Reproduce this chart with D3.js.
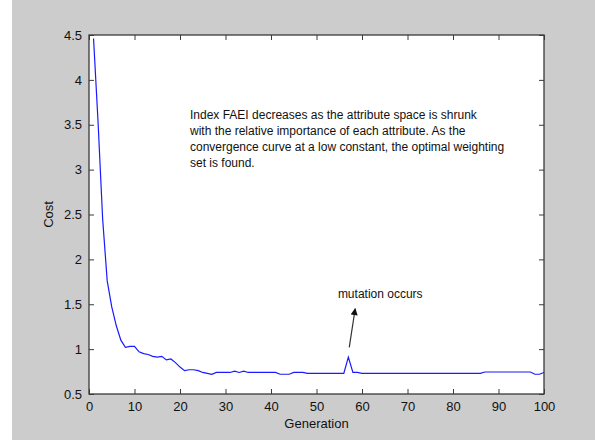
<!DOCTYPE html>
<html>
<head>
<meta charset="utf-8">
<script src="https://cdn.jsdelivr.net/npm/d3@7"></script>
<style>
  html, body { margin: 0; padding: 0; background: #fff; }
  svg { display: block; }
  text { font-family: "Liberation Sans", Arial, sans-serif; fill: #111; }
</style>
</head>
<body>
<svg id="chart" width="595" height="441"></svg>
<script>
// cost per generation
const generations = d3.range(1, 101);
const cost = [
  4.46, 3.52, 2.45, 1.76, 1.47, 1.26, 1.10, 1.02, 1.03, 1.03,
  0.97, 0.95, 0.94, 0.92, 0.91, 0.92, 0.88, 0.89, 0.85, 0.80,
  0.76, 0.77, 0.77, 0.76, 0.74, 0.73, 0.72, 0.74, 0.74, 0.74,
  0.74, 0.755, 0.74, 0.755, 0.74, 0.74, 0.74, 0.74, 0.74, 0.74,
  0.74, 0.72, 0.72, 0.72, 0.74, 0.74, 0.74, 0.73, 0.73, 0.73,
  0.73, 0.73, 0.73, 0.73, 0.73, 0.73, 0.91, 0.74, 0.74, 0.73,
  0.73, 0.73, 0.73, 0.73, 0.73, 0.73, 0.73, 0.73, 0.73, 0.73,
  0.73, 0.73, 0.73, 0.73, 0.73, 0.73, 0.73, 0.73, 0.73, 0.73,
  0.73, 0.73, 0.73, 0.73, 0.73, 0.73, 0.745, 0.745, 0.745, 0.745,
  0.745, 0.745, 0.745, 0.745, 0.745, 0.745, 0.745, 0.72, 0.72, 0.74
];
const xTicks = d3.range(0, 101, 10);
const yTicks = [0.5, 1, 1.5, 2, 2.5, 3, 3.5, 4, 4.5];

const note = [
  "Index FAEI decreases as the attribute space is shrunk",
  "with the relative importance of each attribute. As the",
  "convergence curve at a low constant, the optimal weighting",
  "set is found."
];
const mutationLabel = "mutation occurs";

const svg = d3.select("#chart");
const m = { left: 89, right: 544, top: 35, bottom: 394 };

const x = d3.scaleLinear().domain([0, 100]).range([m.left, m.right]);
const y = d3.scaleLinear().domain([0.5, 4.5]).range([m.bottom, m.top]);

// figure background
svg.append("rect").attr("x", 12).attr("y", 0).attr("width", 583).attr("height", 440).attr("fill", "#cccccc");
svg.append("rect").attr("x", m.left).attr("y", m.top).attr("width", m.right - m.left).attr("height", m.bottom - m.top).attr("fill", "#ffffff");

// axes, ticks pointing inward like matlab
const axisColor = "#3a3a3a";
function styleAxis(g) {
  g.select(".domain").remove();
  g.selectAll(".tick line").attr("stroke", axisColor);
  g.selectAll(".tick text").style("font-size", "13px").attr("fill", "#111");
}
svg.append("g").attr("transform", `translate(0,${m.bottom})`)
  .call(d3.axisBottom(x).tickValues(xTicks).tickSize(-5).tickPadding(8))
  .call(styleAxis);
svg.append("g").attr("transform", `translate(0,${m.top})`)
  .call(d3.axisTop(x).tickValues(xTicks).tickSize(-5).tickFormat(""))
  .call(styleAxis);
svg.append("g").attr("transform", `translate(${m.left},0)`)
  .call(d3.axisLeft(y).tickValues(yTicks).tickSize(-5).tickPadding(7).tickFormat(d => String(d)))
  .call(styleAxis);
svg.append("g").attr("transform", `translate(${m.right},0)`)
  .call(d3.axisRight(y).tickValues(yTicks).tickSize(-5).tickFormat(""))
  .call(styleAxis);

svg.append("rect").attr("x", m.left).attr("y", m.top).attr("width", m.right - m.left).attr("height", m.bottom - m.top)
  .attr("fill", "none").attr("stroke", axisColor).attr("stroke-width", 1.3);

// the cost curve
const line = d3.line().x((d, i) => x(generations[i])).y(d => y(d));
svg.append("path").datum(cost).attr("d", line)
  .attr("fill", "none").attr("stroke", "#1a1aff").attr("stroke-width", 1.2);

// labels
svg.append("text").attr("x", (m.left + m.right) / 2).attr("y", 428)
  .attr("text-anchor", "middle").style("font-size", "13px").text("Generation");
svg.append("text").attr("transform", `translate(53,${(m.top + m.bottom) / 2}) rotate(-90)`)
  .attr("text-anchor", "middle").style("font-size", "13px").text("Cost");

// annotation text
svg.append("text").attr("x", 190).attr("y", 119).style("font-size", "12px")
  .selectAll("tspan").data(note).join("tspan")
  .attr("x", 190).attr("dy", (d, i) => i ? 16 : 0).text(d => d);

// arrow to the spike
const defs = svg.append("defs");
defs.append("marker").attr("id", "head").attr("viewBox", "0 0 10 10")
  .attr("refX", 9).attr("refY", 5).attr("markerWidth", 9).attr("markerHeight", 7)
  .attr("markerUnits", "userSpaceOnUse").attr("orient", "auto")
  .append("path").attr("d", "M0,0L10,5L0,10Z").attr("fill", "#111");
svg.append("line")
  .attr("x1", x(57.2)).attr("y1", y(1.02))
  .attr("x2", x(58.5)).attr("y2", y(1.45))
  .attr("stroke", "#333").attr("stroke-width", 1.2).attr("marker-end", "url(#head)");
svg.append("text").attr("x", x(54.7)).attr("y", 298).style("font-size", "12px").text(mutationLabel);
</script>
</body>
</html>
